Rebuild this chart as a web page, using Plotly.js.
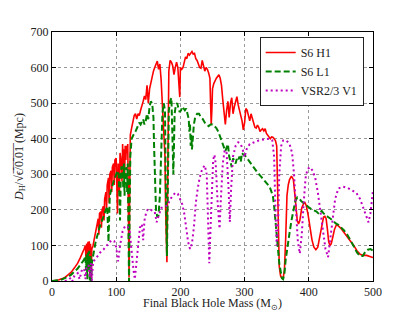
<!DOCTYPE html>
<html>
<head>
<meta charset="utf-8">
<script src="https://cdn.plot.ly/plotly-3.0.1.min.js"></script>
<style>html,body{margin:0;padding:0;background:#fff;}#chart{width:415px;height:312px;}</style>
</head>
<body>
<div id="chart"></div>
<script>
const seriesNames = ["S6 H1", "S6 L1", "VSR2/3 V1"];
const xTicks = [0, 100, 200, 300, 400, 500];
const yTicks = [0, 100, 200, 300, 400, 500, 600, 700];

// [final black hole mass (Msun), horizon distance (Mpc)]
const h1Points = [[0,0],[5,1],[10,3],[15,6],[20,10],[25,17],[30,25],[35,37],[40,50],[44,65],[48,80],[50,90],[52,100],[53,60],[54,105],[55,30],[56,110],[57,70],[58,112],[59,20],[60,105],[61,0],[62,90],[64,100],[66,120],[68,140],[70,155],[72,175],[73,130],[74,190],[76,195],[77,150],[78,200],[80,210],[81,170],[82,230],[84,250],[85,200],[86,270],[88,290],[89,220],[90,300],[92,310],[93,250],[94,320],[96,330],[97,270],[98,340],[100,345],[101,280],[102,190],[103,330],[104,320],[105,250],[106,360],[108,330],[109,280],[110,385],[111,310],[112,370],[113,290],[114,380],[115,340],[116,380],[117,360],[118,385],[119,200],[120,10],[121,250],[122,410],[124,430],[126,450],[128,465],[130,470],[132,455],[134,470],[136,465],[138,480],[140,490],[142,505],[144,520],[146,510],[148,550],[150,500],[152,540],[154,560],[156,575],[158,590],[160,600],[162,610],[164,618],[166,595],[168,610],[170,565],[172,480],[174,420],[176,350],[177,200],[179,53],[180,250],[181,450],[182,590],[184,620],[186,615],[188,605],[190,580],[192,600],[194,615],[196,600],[198,560],[199,517],[200,600],[202,595],[204,600],[206,615],[208,630],[210,625],[212,640],[214,635],[216,640],[218,645],[220,638],[222,640],[224,625],[226,620],[228,610],[230,600],[232,598],[234,620],[236,605],[238,590],[240,600],[242,595],[244,585],[246,570],[247,500],[248,440],[249,480],[250,540],[252,555],[254,565],[256,570],[258,575],[260,580],[262,570],[264,550],[266,510],[268,470],[270,440],[272,480],[274,505],[276,460],[278,500],[280,515],[282,470],[284,490],[286,505],[288,518],[290,495],[292,480],[294,470],[296,450],[298,425],[300,445],[302,485],[304,480],[306,465],[308,450],[310,470],[312,455],[314,440],[316,432],[318,430],[320,438],[322,432],[324,420],[326,425],[328,428],[330,422],[332,428],[334,415],[336,410],[338,402],[340,400],[342,405],[344,404],[346,400],[348,395],[350,380],[351,300],[352,150],[354,40],[356,15],[358,8],[360,8],[362,30],[364,120],[366,240],[368,270],[370,285],[373,295],[376,285],[379,230],[382,170],[384,160],[386,170],[389,205],[392,218],[394,220],[396,212],[399,185],[402,150],[405,115],[408,95],[411,88],[414,95],[417,125],[420,160],[423,180],[425,182],[427,175],[429,145],[431,110],[433,100],[435,105],[437,120],[440,145],[443,158],[446,155],[450,148],[455,135],[460,125],[465,112],[470,100],[475,85],[480,75],[485,72],[490,72],[495,70],[500,66]];

const l1Points = [[0,0],[5,0.5],[10,2],[15,4],[20,7],[25,12],[30,18],[35,26],[40,35],[44,45],[48,55],[50,60],[52,70],[53,30],[54,75],[55,5],[56,80],[57,40],[58,85],[59,0],[60,70],[61,0],[62,50],[64,75],[66,90],[68,110],[70,125],[72,140],[74,150],[76,160],[78,170],[80,180],[82,190],[84,200],[86,210],[88,110],[89,220],[90,240],[92,255],[94,270],[96,280],[98,290],[100,300],[102,310],[104,300],[105,230],[106,170],[107,280],[108,320],[110,320],[111,260],[112,330],[113,240],[114,310],[116,320],[117,250],[118,330],[119,150],[120,0],[121,200],[122,350],[124,400],[126,410],[128,415],[130,420],[132,430],[134,440],[136,445],[138,440],[140,450],[142,455],[144,440],[146,450],[148,470],[150,455],[152,490],[154,505],[156,500],[158,460],[159,380],[160,300],[162,200],[164,180],[166,185],[168,240],[170,380],[172,470],[174,500],[176,480],[177,300],[179,70],[180,200],[182,480],[184,505],[186,515],[187,450],[189,300],[190,380],[191,470],[193,495],[195,500],[197,485],[199,475],[201,480],[203,490],[205,485],[207,480],[209,485],[211,470],[213,455],[214,420],[215,440],[216,380],[217,410],[218,370],[219,400],[221,440],[223,460],[226,470],[229,470],[232,460],[235,455],[238,445],[241,440],[244,435],[247,440],[250,440],[253,435],[256,430],[259,420],[262,405],[265,395],[268,380],[270,365],[272,375],[274,385],[276,350],[278,330],[280,320],[282,345],[284,335],[286,330],[288,345],[290,340],[292,350],[294,335],[296,360],[298,355],[300,355],[303,345],[306,340],[310,330],[315,315],[320,305],[325,295],[330,285],[335,275],[339,265],[342,250],[344,240],[346,210],[348,170],[350,135],[352,85],[354,50],[356,30],[358,8],[360,5],[362,20],[364,60],[366,90],[368,110],[370,135],[373,170],[376,200],[379,225],[382,235],[385,232],[388,225],[391,220],[394,215],[397,210],[400,207],[404,202],[408,198],[412,195],[416,188],[420,197],[423,190],[426,185],[430,180],[434,175],[438,168],[442,162],[446,158],[450,152],[455,142],[460,130],[465,115],[470,98],[475,80],[480,70],[484,70],[488,82],[492,88],[496,90],[500,85]];

const v1Points = [[20,0],[25,3],[30,10],[32,0],[35,15],[40,22],[43,5],[46,28],[50,35],[52,5],[54,40],[57,45],[59,10],[61,50],[62,0],[64,55],[67,60],[70,68],[75,80],[80,88],[85,100],[90,110],[94,115],[97,112],[100,95],[103,55],[106,100],[110,140],[114,155],[118,152],[121,140],[124,80],[127,30],[129,5],[131,40],[134,110],[137,150],[140,160],[142,115],[144,170],[147,195],[150,203],[155,200],[160,195],[163,165],[166,185],[170,205],[175,210],[180,212],[184,230],[188,240],[192,248],[196,245],[200,230],[203,215],[206,190],[209,150],[212,110],[215,90],[218,105],[221,150],[224,220],[227,260],[230,290],[234,315],[238,325],[241,300],[243,200],[245,50],[247,150],[249,280],[251,340],[253,355],[255,330],[258,220],[261,147],[263,230],[266,330],[269,368],[272,360],[275,260],[277,166],[279,260],[282,350],[286,380],[290,390],[294,385],[297,370],[300,348],[303,370],[308,385],[315,390],[322,395],[330,398],[338,400],[343,395],[346,350],[348,200],[350,100],[352,150],[354,300],[357,380],[360,395],[365,395],[370,385],[374,360],[377,300],[380,200],[383,110],[386,77],[389,130],[392,220],[395,290],[398,315],[402,320],[406,310],[410,290],[414,250],[418,200],[422,140],[426,90],[430,67],[433,110],[437,180],[441,230],[446,260],[453,265],[460,262],[467,255],[474,248],[480,230],[485,205],[490,175],[493,165],[496,190],[500,255]];

const serif = "Liberation Serif";
function tr(points, name, color, width, dash) {
  return {
    x: points.map(p => p[0]), y: points.map(p => p[1]),
    name: name, type: "scatter", mode: "lines",
    line: {color: color, width: width, dash: dash},
    cliponaxis: true
  };
}
const data = [
  tr(h1Points, seriesNames[0], "#ff0000", 1.6, "solid"),
  tr(l1Points, seriesNames[1], "#008000", 2, "6px,3px"),
  tr(v1Points, seriesNames[2], "#bf00bf", 2, "2px,3px")
];
const layout = {
  width: 415, height: 312,
  margin: {l: 52, r: 42, t: 32, b: 31},
  paper_bgcolor: "#fff", plot_bgcolor: "#fff",
  font: {family: serif, size: 12, color: "#222"},
  showlegend: true,
  legend: {
    x: 0.647, y: 0.98, xanchor: "left", yanchor: "top",
    bgcolor: "#fff", bordercolor: "#222", borderwidth: 1,
    font: {family: serif, size: 12, color: "#222"},
    itemwidth: 30, tracegroupgap: 0
  },
  xaxis: {
    range: [0, 500], tickvals: xTicks, ticktext: xTicks.map(String),
    showline: true, linecolor: "#000", linewidth: 1, mirror: "ticks",
    ticks: "inside", ticklen: 4, tickcolor: "#000",
    showgrid: true, gridcolor: "#999", griddash: "dot", gridwidth: 1,
    zeroline: false, tickfont: {family: serif, size: 12},
    title: {text: "Final Black Hole Mass (M<sub>⊙</sub>)", standoff: 0, font: {family: serif, size: 12}}
  },
  yaxis: {
    range: [0, 700], tickvals: yTicks, ticktext: yTicks.map(String),
    showline: true, linecolor: "#000", linewidth: 1, mirror: "ticks",
    ticks: "inside", ticklen: 4, tickcolor: "#000",
    showgrid: true, gridcolor: "#999", griddash: "dot", gridwidth: 1,
    zeroline: false, tickfont: {family: serif, size: 12},
    title: {text: "<i>D</i><sub>H</sub>/√<span>ϵ̅/̅0̅.̅0̅1̅</span> (Mpc)", standoff: 4, font: {family: serif, size: 12}}
  }
};
Plotly.newPlot("chart", data, layout, {displayModeBar: false, staticPlot: true});
</script>
</body>
</html>
